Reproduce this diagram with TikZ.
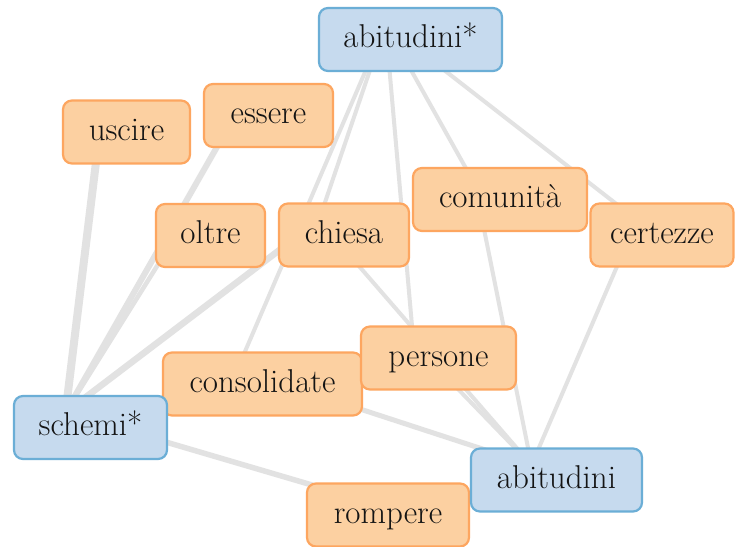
\documentclass[tikz,border=0pt]{standalone}
\usetikzlibrary{backgrounds}
\definecolor{orfill}{RGB}{252,208,161}
\definecolor{ordraw}{RGB}{253,166,96}
\definecolor{blfill}{RGB}{198,218,238}
\definecolor{bldraw}{RGB}{107,174,214}
\definecolor{edgegray}{RGB}{226,226,226}
\definecolor{txt}{RGB}{20,20,20}
\begin{document}
\begin{tikzpicture}[x=1pt,y=-1pt,
  box/.style={rounded corners=9pt, line width=2.2pt, minimum height=63pt,
    inner sep=0pt, text height=23pt, text depth=7pt,
    font=\fontsize{33}{40}\selectfont, text=txt},
  term/.style={box, fill=orfill, draw=ordraw},
  keyword/.style={box, fill=blfill, draw=bldraw},
  link/.style={draw=edgegray, line cap=round}]
\useasboundingbox (0,0) rectangle (735,546);

% terms
\node[keyword, minimum width=183pt] (abitudiniS)  at (410.5,39.5) {abitudini*};
\node[term,    minimum width=127pt] (uscire)      at (126.5,132)  {uscire};
\node[term,    minimum width=129pt] (essere)      at (268.5,115.5){essere};
\node[term,    minimum width=109pt] (oltre)       at (210.5,235.5){oltre};
\node[term,    minimum width=130pt] (chiesa)      at (344,235)    {chiesa};
\node[term,    minimum width=174pt] (comunita)    at (500,199.5)  {comunità};
\node[term,    minimum width=143pt] (certezze)    at (662,235)    {certezze};
\node[term,    minimum width=199pt] (consolidate) at (262.5,384)  {consolidate};
\node[term,    minimum width=155pt] (persone)     at (438.5,358)  {persone};
\node[keyword, minimum width=153pt] (schemiS)     at (90.5,427.5) {schemi*};
\node[term,    minimum width=162pt] (rompere)     at (388,515)    {rompere};
\node[keyword, minimum width=171pt] (abitudini)   at (556.5,480)  {abitudini};

% connections, drawn behind the boxes
\begin{scope}[on background layer]
  \fill[white] (0,0) rectangle (735,546);
  \foreach \a/\b/\w in {
      uscire/schemiS/8, essere/schemiS/6, oltre/schemiS/4.5,
      chiesa/schemiS/6.5, schemiS/rompere/5.5,
      abitudiniS/chiesa/4, abitudiniS/consolidate/4, abitudiniS/persone/4,
      abitudiniS/comunita/4, abitudiniS/certezze/4,
      chiesa/abitudini/4, persone/abitudini/4, comunita/abitudini/4,
      certezze/abitudini/4, consolidate/abitudini/5}
    \draw[link, line width=\w pt]
      ([shift={(-25,-15)}]\a.center) -- ([shift={(-25,-15)}]\b.center);
\end{scope}
\end{tikzpicture}
\end{document}
